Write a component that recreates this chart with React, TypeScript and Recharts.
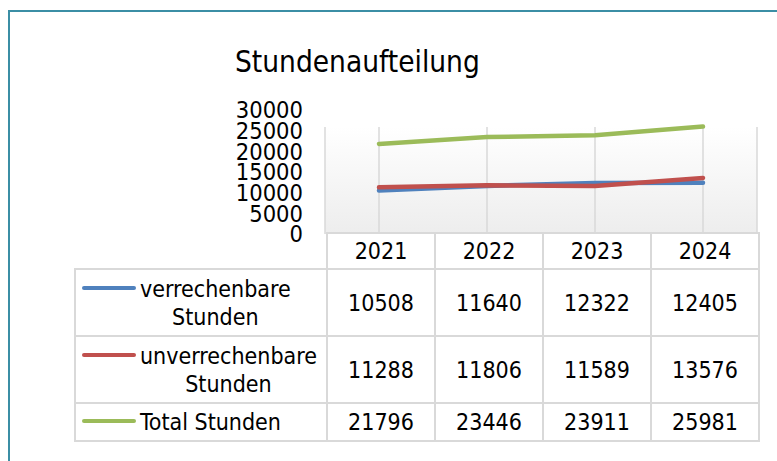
import { LineChart, Line, XAxis, YAxis, CartesianGrid } from 'recharts';

const years = ['2021', '2022', '2023', '2024'];
const verrechenbare = [10508, 11640, 12322, 12405];
const unverrechenbare = [11288, 11806, 11589, 13576];
const total = [21796, 23446, 23911, 25981];
const yTicks = [0, 5000, 10000, 15000, 20000, 25000, 30000];

const SERIES = [
  { key: 'verrechenbare', label: ['verrechenbare', 'Stunden'], values: verrechenbare, color: '#4f81bd' },
  { key: 'unverrechenbare', label: ['unverrechenbare', 'Stunden'], values: unverrechenbare, color: '#c0504d' },
  { key: 'total', label: ['Total Stunden'], values: total, color: '#9bbb59' },
];

const FONT = '"DejaVu Sans Condensed", "DejaVu Sans", sans-serif';
const BORDER = '2px solid #d9d9d9';

const chartData = years.map((year, i) => ({
  year,
  verrechenbare: verrechenbare[i],
  unverrechenbare: unverrechenbare[i],
  total: total[i],
}));

export default function App() {
  return (
    <div
      style={{
        position: 'absolute',
        left: 0,
        top: 0,
        width: 777,
        height: 461,
        background: '#fff',
        overflow: 'hidden',
        fontFamily: FONT,
        color: '#000',
      }}
    >
      {/* frame, only top and left edge are visible */}
      <div
        style={{
          position: 'absolute',
          left: 8,
          top: 10,
          width: 800,
          height: 500,
          borderLeft: '2px solid #3b8ea5',
          borderTop: '2px solid #3b8ea5',
        }}
      />

      <div
        style={{
          position: 'absolute',
          left: 235,
          top: 48,
          fontSize: 29.5,
          lineHeight: 1,
          whiteSpace: 'nowrap',
        }}
      >
        Stundenaufteilung
      </div>

      <div style={{ position: 'absolute', left: 0, top: 0 }}>
        <LineChart
          width={777}
          height={300}
          data={chartData}
          margin={{ top: 110, right: 20, left: 225, bottom: 66 }}
        >
          <defs>
            <linearGradient id="plotBg" x1="0" y1="0" x2="0" y2="1">
              <stop offset="0%" stopColor="#ffffff" />
              <stop offset="100%" stopColor="#ededed" />
            </linearGradient>
          </defs>
          <CartesianGrid
            y={127}
            height={107}
            horizontal={false}
            stroke="#d9d9d9"
            strokeWidth={1.5}
            fill="url(#plotBg)"
          />
          <XAxis dataKey="year" hide padding={{ left: 54, right: 54 }} />
          <YAxis
            width={100}
            domain={[0, 30000]}
            ticks={yTicks}
            interval={0}
            axisLine={false}
            tickLine={false}
            tickSize={0}
            tickMargin={22}
            tick={{ fill: '#000', fontSize: 23.5, fontFamily: FONT }}
          />
          {SERIES.map((s) => (
            <Line
              key={s.key}
              type="linear"
              dataKey={s.key}
              stroke={s.color}
              strokeWidth={4.5}
              strokeLinecap="round"
              dot={false}
              activeDot={false}
              isAnimationActive={false}
            />
          ))}
        </LineChart>
      </div>

      <table
        style={{
          position: 'absolute',
          left: 74,
          top: 232,
          width: 684,
          borderCollapse: 'collapse',
          tableLayout: 'fixed',
          fontSize: 23,
          lineHeight: '28px',
        }}
      >
        <colgroup>
          <col style={{ width: 252 }} />
          {years.map((y) => (
            <col key={y} style={{ width: 108 }} />
          ))}
        </colgroup>
        <tbody>
          <tr style={{ height: 36 }}>
            <td style={{ border: 'none', padding: 0 }} />
            {years.map((y) => (
              <td key={y} style={{ border: BORDER, padding: 0, textAlign: 'center' }}>
                {y}
              </td>
            ))}
          </tr>
          {SERIES.map((s) => (
            <tr key={s.key} style={{ height: s.label.length > 1 ? 67 : 38 }}>
              <td style={{ border: BORDER, padding: '0 0 0 6px', verticalAlign: 'middle' }}>
                <div style={{ display: 'flex', alignItems: 'flex-start' }}>
                  <div
                    style={{
                      width: 54,
                      height: 4,
                      borderRadius: 2,
                      background: s.color,
                      marginTop: 11,
                      marginRight: 4,
                      flex: 'none',
                    }}
                  />
                  <div style={{ textAlign: 'center', whiteSpace: 'nowrap' }}>
                    {s.label.map((l) => (
                      <div key={l}>{l}</div>
                    ))}
                  </div>
                </div>
              </td>
              {s.values.map((v, i) => (
                <td key={years[i]} style={{ border: BORDER, padding: 0, textAlign: 'center', verticalAlign: 'middle' }}>
                  {v}
                </td>
              ))}
            </tr>
          ))}
        </tbody>
      </table>
    </div>
  );
}
